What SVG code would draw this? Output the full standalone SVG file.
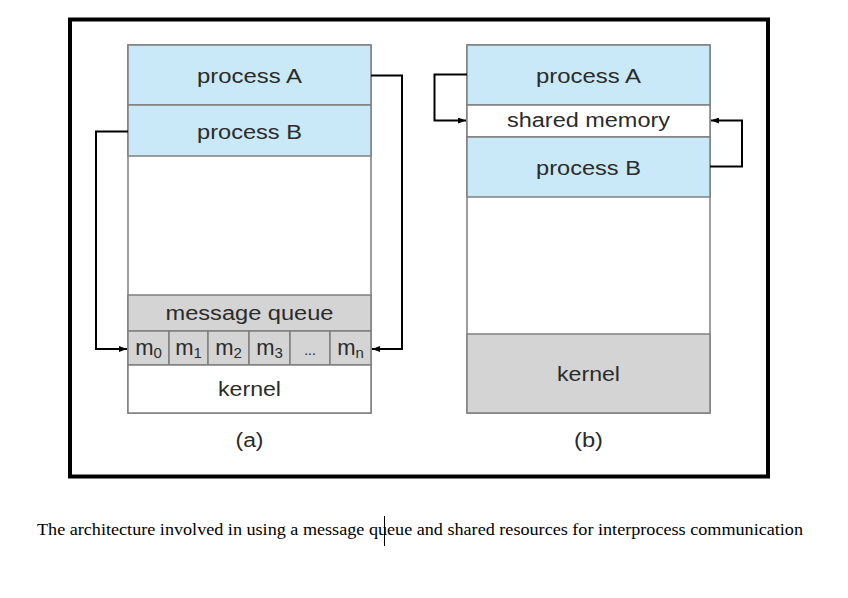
<svg xmlns="http://www.w3.org/2000/svg" width="848" height="598" viewBox="0 0 848 598">
<style>
.box{stroke:#7f7f7f;stroke-width:1.5}
.blue{fill:#c9e9f8}
.gray{fill:#d4d4d4}
.white{fill:#ffffff}
.lbl{font-family:"Liberation Sans",Arial,sans-serif;font-size:20px;fill:#2b2b2b;text-anchor:middle}
.cell{font-family:"Liberation Sans",Arial,sans-serif;font-size:22px;fill:#2b2b2b;text-anchor:middle}
.sub{font-size:15px}
.conn{fill:none;stroke:#000;stroke-width:2}
.cap{font-family:"Liberation Serif","Times New Roman",serif;font-size:16px;fill:#000}
</style>
<defs>
<marker id="arr" markerUnits="userSpaceOnUse" markerWidth="8" markerHeight="6" refX="8" refY="3" orient="auto">
<path d="M0,0 L8,3 L0,6 z" fill="#000"/>
</marker>
</defs>
<rect x="0" y="0" width="848" height="598" fill="#fff"/>
<rect x="70" y="19.5" width="698" height="457" fill="none" stroke="#000" stroke-width="4"/>

<g id="a-column">
<rect class="box white" x="128" y="45" width="243" height="368"/>
</g>
<g id="a-processA">
<rect class="box blue" x="128" y="45" width="243" height="60"/>
<text class="lbl" x="249.5" y="83" textLength="105" lengthAdjust="spacingAndGlyphs">process A</text>
</g>
<g id="a-processB">
<rect class="box blue" x="128" y="105" width="243" height="51"/>
<text class="lbl" x="249.5" y="139" textLength="105" lengthAdjust="spacingAndGlyphs">process B</text>
</g>
<g id="a-queue">
<rect class="box gray" x="128" y="295" width="243" height="36"/>
<text class="lbl" x="249.5" y="320" textLength="168" lengthAdjust="spacingAndGlyphs">message queue</text>
</g>
<g id="a-cells">
<rect class="box gray" x="128" y="331" width="41" height="34"/>
<rect class="box gray" x="169" y="331" width="39" height="34"/>
<rect class="box gray" x="208" y="331" width="41" height="34"/>
<rect class="box gray" x="249" y="331" width="41" height="34"/>
<rect class="box gray" x="290" y="331" width="40" height="34"/>
<rect class="box gray" x="330" y="331" width="41" height="34"/>
<text class="cell" x="148.5" y="355">m<tspan class="sub" dy="3">0</tspan></text>
<text class="cell" x="188.5" y="355">m<tspan class="sub" dy="3">1</tspan></text>
<text class="cell" x="228.5" y="355">m<tspan class="sub" dy="3">2</tspan></text>
<text class="cell" x="269.5" y="355">m<tspan class="sub" dy="3">3</tspan></text>
<text class="lbl" x="310" y="355" style="font-size:14px">...</text>
<text class="cell" x="350.5" y="355">m<tspan class="sub" dy="3">n</tspan></text>
</g>
<g id="a-kernel">
<rect class="box white" x="128" y="365" width="243" height="48"/>
<text class="lbl" x="249.5" y="396" textLength="63" lengthAdjust="spacingAndGlyphs">kernel</text>
</g>
<g id="a-label">
<text class="lbl" x="249.5" y="447" textLength="28" lengthAdjust="spacingAndGlyphs">(a)</text>
</g>

<g id="b-column">
<rect class="box white" x="467" y="45" width="243" height="368"/>
</g>
<g id="b-processA">
<rect class="box blue" x="467" y="45" width="243" height="60"/>
<text class="lbl" x="588.5" y="83" textLength="105" lengthAdjust="spacingAndGlyphs">process A</text>
</g>
<g id="b-shared">
<rect class="box white" x="467" y="105" width="243" height="32"/>
<text class="lbl" x="588.5" y="127" textLength="163" lengthAdjust="spacingAndGlyphs">shared memory</text>
</g>
<g id="b-processB">
<rect class="box blue" x="467" y="137" width="243" height="60"/>
<text class="lbl" x="588.5" y="175" textLength="105" lengthAdjust="spacingAndGlyphs">process B</text>
</g>
<g id="b-kernel">
<rect class="box gray" x="467" y="334" width="243" height="79"/>
<text class="lbl" x="588.5" y="381" textLength="63" lengthAdjust="spacingAndGlyphs">kernel</text>
</g>
<g id="b-label">
<text class="lbl" x="588.5" y="447" textLength="29" lengthAdjust="spacingAndGlyphs">(b)</text>
</g>

<g id="connectors">
<path class="conn" d="M371,75.5 H402 V349 H372" marker-end="url(#arr)"/>
<path class="conn" d="M128,131.5 H96 V349 H127" marker-end="url(#arr)"/>
<path class="conn" d="M467,74.5 H434.5 V120.5 H466" marker-end="url(#arr)"/>
<path class="conn" d="M710,166.5 H742 V120.5 H711" marker-end="url(#arr)"/>
</g>

<g id="caption">
<text class="cap" x="37" y="535" textLength="766" lengthAdjust="spacingAndGlyphs">The architecture involved in using a message queue and shared resources for interprocess communication</text>
<line x1="384.5" y1="516" x2="384.5" y2="546" stroke="#000" stroke-width="1"/>
</g>
</svg>
